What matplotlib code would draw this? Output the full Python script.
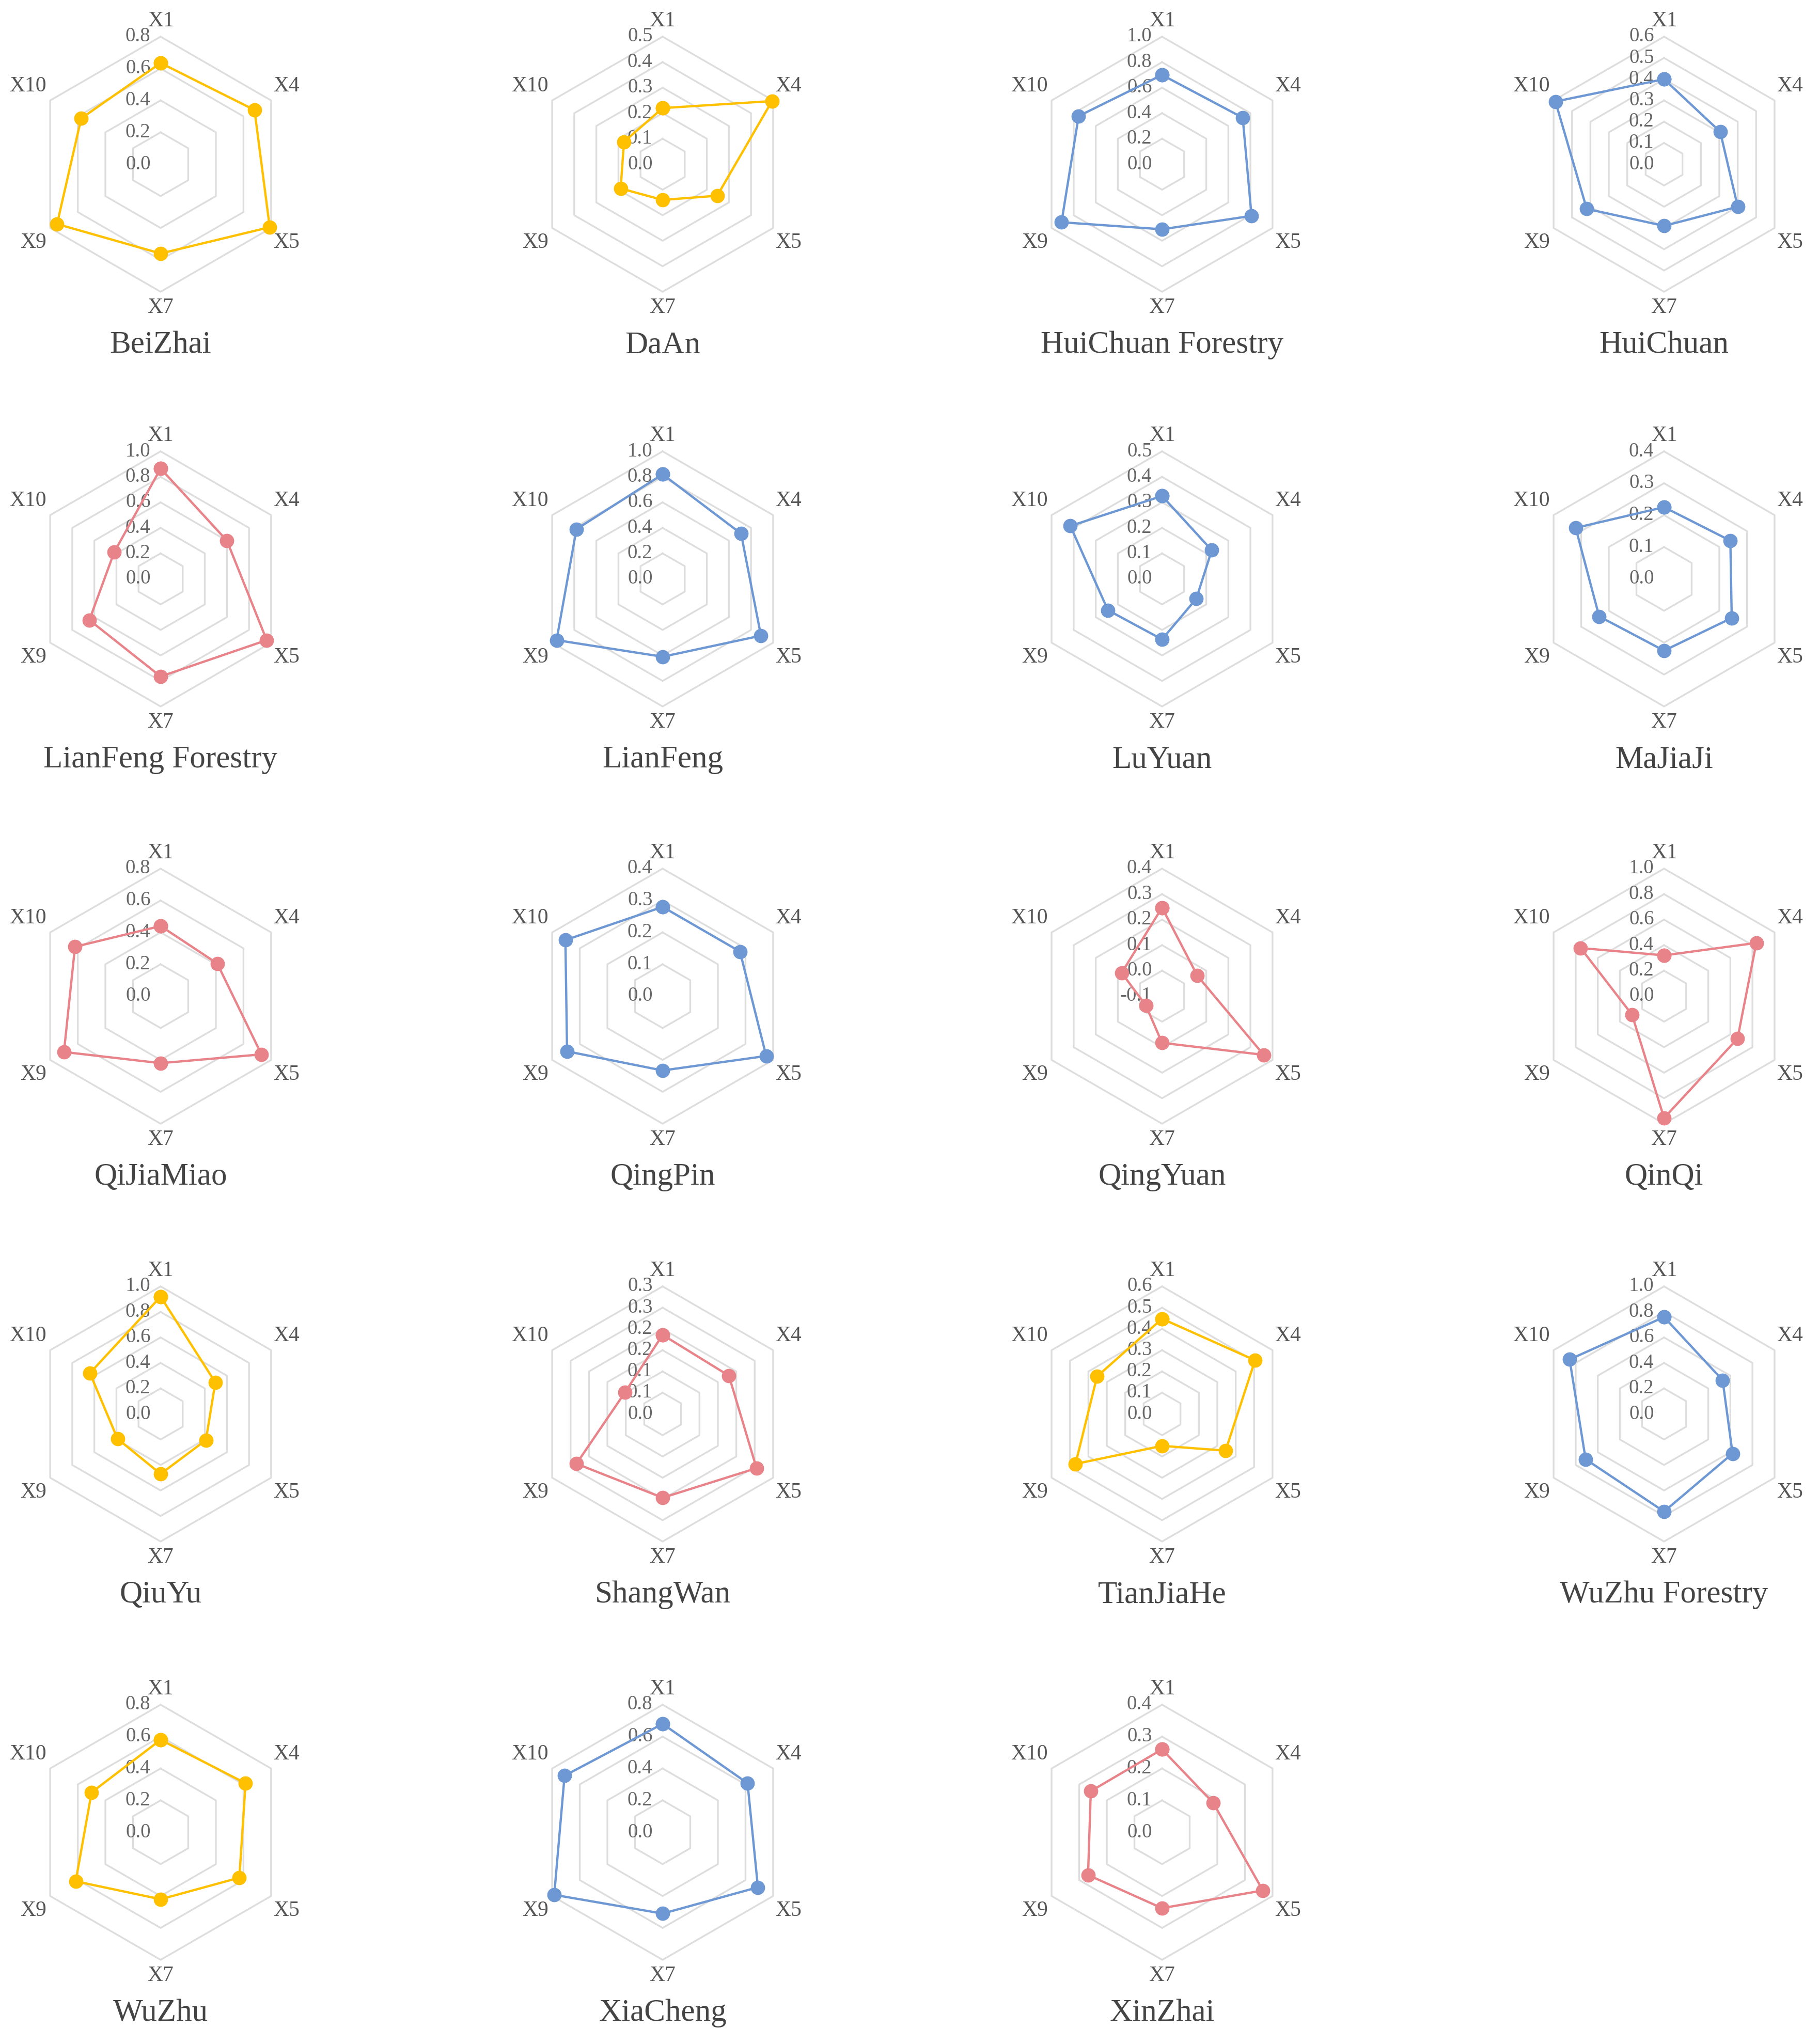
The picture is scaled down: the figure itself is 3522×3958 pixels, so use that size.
import numpy as np
import matplotlib
matplotlib.use("Agg")
import matplotlib.pyplot as plt

plt.rcParams['font.family'] = ['Liberation Serif', 'DejaVu Serif']

indicators = ["X1", "X4", "X5", "X7", "X9", "X10"]

towns = ["BeiZhai", "DaAn", "HuiChuan Forestry", "HuiChuan",
         "LianFeng Forestry", "LianFeng", "LuYuan", "MaJiaJi",
         "QiJiaMiao", "QingPin", "QingYuan", "QinQi",
         "QiuYu", "ShangWan", "TianJiaHe", "WuZhu Forestry",
         "WuZhu", "XiaCheng", "XinZhai"]

# values, one list per indicator (same order as towns)
x1 = [0.635, 0.22, 0.70, 0.40, 0.865, 0.82, 0.325, 0.225, 0.44, 0.28, 0.247, 0.32,
      0.92, 0.186, 0.448, 0.76, 0.58, 0.68, 0.26]
x4 = [0.68, 0.495, 0.73, 0.305, 0.60, 0.71, 0.225, 0.24, 0.41, 0.28, 0.06, 0.835,
      0.495, 0.18, 0.505, 0.53, 0.615, 0.615, 0.185]
x5 = [0.79, 0.247, 0.81, 0.40, 0.96, 0.89, 0.155, 0.245, 0.73, 0.375, 0.36, 0.665,
      0.41, 0.255, 0.345, 0.62, 0.57, 0.69, 0.365]
x7 = [0.56, 0.14, 0.51, 0.29, 0.765, 0.61, 0.237, 0.225, 0.42, 0.233, 0.083, 0.955,
      0.47, 0.197, 0.15, 0.765, 0.42, 0.51, 0.238]
x9 = [0.75, 0.19, 0.91, 0.42, 0.645, 0.96, 0.245, 0.235, 0.70, 0.346, -0.027, 0.29,
      0.39, 0.234, 0.47, 0.71, 0.615, 0.785, 0.268]
x10 = [0.575, 0.175, 0.755, 0.59, 0.42, 0.78, 0.415, 0.32, 0.62, 0.352, 0.083, 0.755,
       0.64, 0.102, 0.353, 0.855, 0.50, 0.71, 0.258]

# radial axis range for each panel
r_min = [0, 0, 0, 0, 0, 0, 0, 0, 0, 0, -0.1, 0, 0, 0, 0, 0, 0, 0, 0]
r_max = [0.8, 0.5, 1.0, 0.6, 1.0, 1.0, 0.5, 0.4, 0.8, 0.4, 0.4, 1.0,
         1.0, 0.3, 0.6, 1.0, 0.8, 0.8, 0.4]
r_step = [0.2, 0.1, 0.2, 0.1, 0.2, 0.2, 0.1, 0.1, 0.2, 0.1, 0.1, 0.2,
          0.2, 0.05, 0.1, 0.2, 0.2, 0.2, 0.1]

group = ["y", "y", "b", "b", "r", "b", "b", "b", "r", "b", "r", "r",
         "y", "r", "y", "b", "y", "b", "r"]
palette = {"y": "#FFC000", "b": "#6E98D4", "r": "#E8838A"}

W, H = 3522, 3958
col_x = [311, 1283, 2250, 3222]
row_y = [318, 1121, 1929, 2738, 3548]
R = 247

fig = plt.figure(figsize=(W / 100, H / 100), dpi=100)

theta = np.deg2rad(np.arange(6) * 60)
theta_c = np.append(theta, theta[0])

# label offsets from each outer vertex (points)
name_off = [(0, 22, "center"), (3, 20, "left"), (3, -20, "left"),
            (0, -22, "center"), (-5, -20, "right"), (-5, 20, "right")]

for i, town in enumerate(towns):
    cx = col_x[i % 4]
    cy = row_y[i // 4]
    ax = fig.add_axes([(cx - R) / W, 1 - (cy + R) / H, 2 * R / W, 2 * R / H],
                      projection="polar")
    ax.set_theta_zero_location("N")
    ax.set_theta_direction(-1)
    lo, hi = r_min[i], r_max[i]
    ax.set_ylim(lo, hi)
    ax.grid(False)
    ax.set_xticks([])
    ax.set_yticks([])
    ax.spines["polar"].set_visible(False)
    ax.patch.set_alpha(0)

    n = int(round((hi - lo) / r_step[i]))
    ticks = np.linspace(lo, hi, n + 1)
    for t in ticks[1:]:
        ax.plot(theta_c, [t] * 7, color="#dddddd", lw=2.4, zorder=1, clip_on=False)
    for t in ticks:
        ax.annotate(f"{t + 1e-9:.1f}", xy=(0, t), xytext=(-14, 0),
                    textcoords="offset points", ha="right", va="center",
                    fontsize=28, color="#666666", zorder=2)

    vals = [x1[i], x4[i], x5[i], x7[i], x9[i], x10[i]]
    c = palette[group[i]]
    ax.plot(theta_c, vals + vals[:1], color=c, lw=3.2, marker="o", ms=19,
            clip_on=False, zorder=3)

    # indicator names around the hexagon
    for k, name in enumerate(indicators):
        dx, dy, ha = name_off[k]
        ax.annotate(name, xy=(theta[k], hi), xytext=(dx, dy),
                    textcoords="offset points", ha=ha, va="center",
                    fontsize=30, color="#555555")

    ax.text(0.5, -0.21, town, transform=ax.transAxes, ha="center", va="center",
            fontsize=44, color="#444444")

fig.savefig("out.png", dpi=100, facecolor="white")
